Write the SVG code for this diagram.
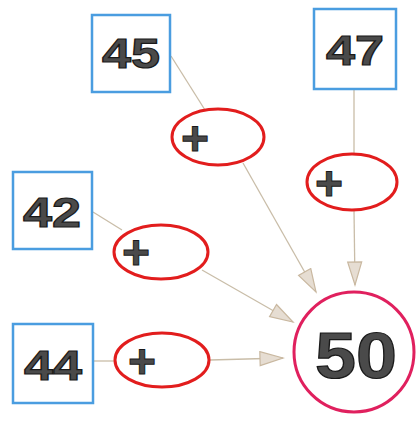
<svg xmlns="http://www.w3.org/2000/svg" width="416" height="423" viewBox="0 0 416 423">
<defs>
<style>
.box{fill:#fff;stroke:#4a9de0;stroke-width:2.5}
.op{fill:#fff;stroke:#e21d1d;stroke-width:3}
.res{fill:#fff;stroke:#e0205e;stroke-width:3}
.num{font-family:"Liberation Sans",Arial,sans-serif;font-weight:bold;fill:#4a4a4a;stroke:#1a1a1a;stroke-width:1.2;text-anchor:middle}
.plus{font-family:"Liberation Sans",Arial,sans-serif;font-weight:bold;fill:#4a4a4a;stroke:#1a1a1a;stroke-width:1;text-anchor:middle;font-size:48px}
.ln{stroke:#c9bda8;stroke-width:1.3;fill:none}
</style>
<marker id="ah" markerUnits="userSpaceOnUse" markerWidth="26" markerHeight="18" refX="24" refY="8" orient="auto" viewBox="0 0 26 18">
<path d="M1,1 L24,8 L1,15 Z" fill="#e6ddd2" stroke="#c9b8a0" stroke-width="1.2"/>
</marker>
</defs>
<g id="connectors">
<line class="ln" x1="171" y1="56" x2="205" y2="110"/>
<line class="ln" x1="243" y1="163" x2="316" y2="292" marker-end="url(#ah)"/>
<line class="ln" x1="354" y1="90" x2="354" y2="154"/>
<line class="ln" x1="354" y1="210" x2="355" y2="285" marker-end="url(#ah)"/>
<line class="ln" x1="93" y1="212" x2="122" y2="230"/>
<line class="ln" x1="202" y1="270" x2="293" y2="322" marker-end="url(#ah)"/>
<line class="ln" x1="94" y1="361" x2="115" y2="361"/>
<line class="ln" x1="210" y1="360" x2="283" y2="358" marker-end="url(#ah)"/>
</g>
<g id="n45"><rect class="box" x="92" y="15" width="78" height="77"/><text class="num" x="131" y="68" font-size="43" textLength="58" lengthAdjust="spacingAndGlyphs">45</text></g>
<g id="n47"><rect class="box" x="314" y="9" width="82" height="80"/><text class="num" x="355" y="65" font-size="43" textLength="58" lengthAdjust="spacingAndGlyphs">47</text></g>
<g id="n42"><rect class="box" x="13" y="172" width="79" height="77"/><text class="num" x="52" y="227" font-size="43" textLength="58" lengthAdjust="spacingAndGlyphs">42</text></g>
<g id="n44"><rect class="box" x="13" y="324" width="80" height="79"/><text class="num" x="53" y="380" font-size="43" textLength="58" lengthAdjust="spacingAndGlyphs">44</text></g>
<g id="p1"><ellipse class="op" cx="218" cy="137" rx="46" ry="28"/><text class="plus" x="195" y="155">+</text></g>
<g id="p2"><ellipse class="op" cx="352" cy="182" rx="45" ry="28"/><text class="plus" x="329" y="200">+</text></g>
<g id="p3"><ellipse class="op" cx="161" cy="252" rx="47" ry="27"/><text class="plus" x="136" y="269">+</text></g>
<g id="p4"><ellipse class="op" cx="162" cy="360" rx="47" ry="27"/><text class="plus" x="142" y="378">+</text></g>
<g id="n50"><circle class="res" cx="354" cy="352" r="60"/><text class="num" x="356" y="378" font-size="64" textLength="82" lengthAdjust="spacingAndGlyphs">50</text></g>
</svg>
